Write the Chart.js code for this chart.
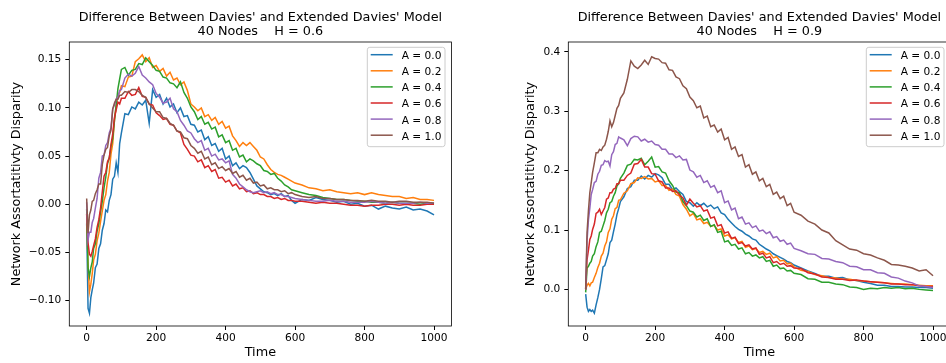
<!DOCTYPE html>
<html>
<head>
<meta charset="utf-8">
<script src="https://cdn.jsdelivr.net/npm/chart.js@4.4.1/dist/chart.umd.min.js"></script>
<style>
  html, body { margin: 0; padding: 0; background: #fff; overflow: hidden; width: 946px; height: 363px; }
  canvas { position: absolute; top: 0; }
  #leftChart { left: 0; }
  #rightChart { left: 473px; }
</style>
</head>
<body>
<canvas id="leftChart" width="473" height="363"></canvas>
<canvas id="rightChart" width="500" height="363"></canvas>
<script>
// Sample times (shared by every series)
const timeSteps = [0, 4, 8, 12, 16, 20, 25, 30, 35, 40, 45, 50, 55, 60, 65, 70, 75, 80, 85, 90, 95, 100,
  110, 120, 130, 140, 150, 160, 170, 180, 190, 200, 210, 220, 230, 240, 250, 260, 270, 280, 290, 300,
  310, 320, 330, 340, 350, 360, 370, 380, 390, 400, 410, 420, 430, 440, 450, 460, 470, 480, 490, 500,
  510, 520, 530, 540, 550, 560, 570, 580, 590, 600,
  620, 640, 660, 680, 700, 720, 740, 760, 780, 800, 820, 840, 860, 880, 900, 920, 940, 960, 980, 1000];

const seriesLabels = ["A = 0.0", "A = 0.2", "A = 0.4", "A = 0.6", "A = 0.8", "A = 1.0"];
const seriesColors = ["#1f77b4", "#ff7f0e", "#2ca02c", "#d62728", "#9467bd", "#8c564b"];

const xTicks = [0, 200, 400, 600, 800, 1000];
const leftYTicks = [-0.10, -0.05, 0.00, 0.05, 0.10, 0.15];
const rightYTicks = [0.0, 0.1, 0.2, 0.3, 0.4];

// H = 0.6
const leftA00 = [-0.020, -0.108, -0.113, -0.097, -0.089, -0.082, -0.066, -0.062, -0.046, -0.041, -0.027, -0.020, -0.006, -0.008, 0.004, 0.010, 0.026, 0.029, 0.043, 0.033, 0.063, 0.074,
  0.094, 0.093, 0.101, 0.099, 0.106, 0.103, 0.108, 0.084, 0.119, 0.111, 0.114, 0.104, 0.110, 0.101, 0.104, 0.095, 0.100, 0.091, 0.092, 0.083,
  0.082, 0.075, 0.077, 0.067, 0.070, 0.061, 0.063, 0.055, 0.058, 0.047, 0.050, 0.040, 0.043, 0.037, 0.040, 0.038, 0.033, 0.026, 0.019, 0.016,
  0.013, 0.012, 0.010, 0.011, 0.009, 0.011, 0.008, 0.009, 0.004, 0.001,
  0.005, 0.004, 0.007, 0.005, 0.004, 0.002, 0.003, 0.000, 0.001, -0.002, -0.001, -0.005, -0.002, -0.004, -0.005, -0.003, -0.006, -0.005, -0.007, -0.011];
const leftA02 = [-0.010, -0.062, -0.091, -0.083, -0.072, -0.058, -0.052, -0.038, -0.030, -0.018, -0.007, 0.004, 0.010, 0.024, 0.033, 0.052, 0.063, 0.087, 0.103, 0.114, 0.116, 0.123,
  0.122, 0.132, 0.133, 0.148, 0.151, 0.155, 0.148, 0.152, 0.142, 0.144, 0.138, 0.141, 0.133, 0.137, 0.129, 0.131, 0.124, 0.127, 0.118, 0.104,
  0.101, 0.097, 0.100, 0.091, 0.093, 0.087, 0.090, 0.083, 0.086, 0.079, 0.081, 0.071, 0.066, 0.060, 0.064, 0.061, 0.064, 0.060, 0.056, 0.049,
  0.047, 0.041, 0.036, 0.033, 0.031, 0.030, 0.028, 0.026, 0.024, 0.022,
  0.020, 0.017, 0.016, 0.014, 0.015, 0.013, 0.012, 0.011, 0.012, 0.010, 0.012, 0.010, 0.009, 0.008, 0.008, 0.006, 0.007, 0.005, 0.005, 0.004];
const leftA04 = [-0.005, -0.066, -0.075, -0.066, -0.060, -0.046, -0.041, -0.028, -0.020, -0.008, 0.003, 0.017, 0.028, 0.042, 0.048, 0.060, 0.068, 0.087, 0.103, 0.120, 0.130, 0.140,
  0.142, 0.134, 0.139, 0.140, 0.146, 0.145, 0.152, 0.148, 0.144, 0.139, 0.138, 0.132, 0.131, 0.126, 0.125, 0.121, 0.127, 0.116, 0.110, 0.101,
  0.096, 0.088, 0.091, 0.083, 0.085, 0.078, 0.080, 0.070, 0.072, 0.064, 0.066, 0.056, 0.058, 0.049, 0.051, 0.044, 0.047, 0.045, 0.042, 0.040,
  0.035, 0.034, 0.031, 0.032, 0.027, 0.024, 0.020, 0.018, 0.015, 0.014,
  0.012, 0.010, 0.009, 0.007, 0.006, 0.005, 0.005, 0.004, 0.003, 0.003, 0.002, 0.002, 0.001, 0.002, 0.001, 0.001, 0.001, 0.000, 0.001, 0.001];
const leftA06 = [-0.010, -0.040, -0.052, -0.054, -0.049, -0.043, -0.036, -0.024, -0.016, -0.004, 0.013, 0.029, 0.033, 0.044, 0.048, 0.062, 0.073, 0.090, 0.098, 0.106, 0.104, 0.110,
  0.110, 0.117, 0.113, 0.114, 0.121, 0.112, 0.111, 0.104, 0.103, 0.095, 0.092, 0.088, 0.089, 0.083, 0.082, 0.076, 0.074, 0.062, 0.057, 0.051,
  0.050, 0.044, 0.046, 0.038, 0.040, 0.034, 0.036, 0.027, 0.028, 0.023, 0.025, 0.019, 0.021, 0.016, 0.017, 0.013, 0.014, 0.011, 0.012, 0.010,
  0.010, 0.008, 0.008, 0.006, 0.007, 0.005, 0.006, 0.004, 0.004, 0.003,
  0.003, 0.002, 0.001, 0.002, 0.001, 0.001, 0.000, -0.001, -0.001, -0.002, -0.001, -0.001, 0.000, 0.000, -0.001, 0.000, -0.001, -0.001, 0.000, 0.000];
const leftA08 = [0.002, -0.037, -0.029, -0.029, -0.019, -0.015, -0.004, 0.006, 0.027, 0.033, 0.050, 0.051, 0.061, 0.064, 0.074, 0.079, 0.099, 0.103, 0.109, 0.111, 0.118, 0.119,
  0.131, 0.135, 0.133, 0.136, 0.143, 0.134, 0.131, 0.127, 0.124, 0.115, 0.111, 0.105, 0.106, 0.110, 0.099, 0.096, 0.087, 0.082, 0.076, 0.074,
  0.068, 0.064, 0.066, 0.056, 0.058, 0.050, 0.052, 0.046, 0.047, 0.043, 0.045, 0.031, 0.027, 0.021, 0.018, 0.015, 0.013, 0.012, 0.013, 0.014,
  0.012, 0.013, 0.011, 0.012, 0.010, 0.010, 0.008, 0.008, 0.007, 0.006,
  0.005, 0.004, 0.003, 0.003, 0.004, 0.003, 0.003, 0.002, 0.002, 0.002, 0.003, 0.002, 0.001, 0.002, 0.001, 0.001, 0.001, 0.002, 0.001, 0.001];
const leftA10 = [0.006, -0.030, -0.011, -0.006, 0.003, 0.004, 0.011, 0.015, 0.021, 0.021, 0.041, 0.051, 0.057, 0.059, 0.071, 0.077, 0.099, 0.105, 0.109, 0.109, 0.113, 0.113,
  0.117, 0.116, 0.119, 0.119, 0.117, 0.113, 0.111, 0.104, 0.100, 0.096, 0.096, 0.090, 0.089, 0.084, 0.082, 0.076, 0.075, 0.069, 0.068, 0.061,
  0.058, 0.053, 0.055, 0.047, 0.049, 0.041, 0.043, 0.037, 0.039, 0.035, 0.037, 0.032, 0.034, 0.028, 0.030, 0.025, 0.027, 0.022, 0.023, 0.019,
  0.020, 0.016, 0.017, 0.015, 0.015, 0.013, 0.014, 0.011, 0.012, 0.010,
  0.008, 0.007, 0.008, 0.006, 0.006, 0.005, 0.005, 0.004, 0.004, 0.003, 0.004, 0.003, 0.003, 0.002, 0.003, 0.003, 0.002, 0.002, 0.002, 0.001];

// H = 0.9
const rightA00 = [-0.008, -0.030, -0.037, -0.034, -0.037, -0.035, -0.040, -0.026, -0.014, 0.000, 0.018, 0.038, 0.040, 0.050, 0.060, 0.079, 0.083, 0.097, 0.110, 0.126, 0.136, 0.148,
  0.156, 0.170, 0.173, 0.184, 0.184, 0.191, 0.186, 0.192, 0.189, 0.195, 0.193, 0.188, 0.177, 0.177, 0.168, 0.171, 0.165, 0.160, 0.148, 0.146,
  0.140, 0.146, 0.141, 0.145, 0.139, 0.142, 0.136, 0.139, 0.129, 0.126, 0.118, 0.112, 0.106, 0.101, 0.098, 0.093, 0.090, 0.085, 0.083, 0.076,
  0.072, 0.068, 0.065, 0.060, 0.057, 0.054, 0.051, 0.047, 0.045, 0.041,
  0.036, 0.031, 0.027, 0.022, 0.022, 0.019, 0.020, 0.016, 0.015, 0.012, 0.010, 0.007, 0.007, 0.005, 0.005, 0.004, 0.004, 0.003, 0.003, 0.002];
const rightA02 = [0.000, 0.007, 0.010, 0.006, 0.011, 0.012, 0.020, 0.027, 0.037, 0.044, 0.056, 0.061, 0.073, 0.080, 0.096, 0.102, 0.118, 0.124, 0.136, 0.138, 0.150, 0.151,
  0.162, 0.166, 0.178, 0.180, 0.188, 0.187, 0.190, 0.186, 0.187, 0.181, 0.183, 0.175, 0.175, 0.167, 0.169, 0.160, 0.157, 0.143, 0.135, 0.124,
  0.128, 0.117, 0.119, 0.111, 0.113, 0.106, 0.108, 0.100, 0.102, 0.090, 0.092, 0.085, 0.087, 0.079, 0.081, 0.071, 0.073, 0.067, 0.069, 0.062,
  0.064, 0.059, 0.061, 0.053, 0.055, 0.048, 0.049, 0.043, 0.044, 0.038,
  0.032, 0.030, 0.025, 0.023, 0.020, 0.019, 0.017, 0.017, 0.015, 0.014, 0.013, 0.012, 0.011, 0.010, 0.009, 0.009, 0.008, 0.007, 0.006, 0.006];
const rightA04 = [-0.005, 0.036, 0.039, 0.044, 0.047, 0.056, 0.060, 0.072, 0.080, 0.096, 0.098, 0.107, 0.116, 0.129, 0.135, 0.146, 0.148, 0.157, 0.163, 0.174, 0.178, 0.187,
  0.196, 0.209, 0.211, 0.219, 0.218, 0.221, 0.210, 0.216, 0.223, 0.206, 0.207, 0.198, 0.196, 0.183, 0.175, 0.164, 0.163, 0.148, 0.141, 0.132,
  0.130, 0.122, 0.125, 0.116, 0.119, 0.106, 0.109, 0.096, 0.098, 0.080, 0.082, 0.074, 0.076, 0.068, 0.070, 0.060, 0.062, 0.056, 0.058, 0.053,
  0.055, 0.047, 0.049, 0.039, 0.041, 0.035, 0.036, 0.031, 0.032, 0.027,
  0.025, 0.018, 0.017, 0.012, 0.012, 0.009, 0.008, 0.004, 0.003, 0.000, 0.002, 0.001, 0.003, 0.002, 0.003, 0.001, 0.002, 0.000, -0.001, -0.002];
const rightA06 = [0.000, 0.050, 0.066, 0.084, 0.090, 0.101, 0.110, 0.128, 0.130, 0.135, 0.126, 0.132, 0.138, 0.152, 0.154, 0.163, 0.163, 0.169, 0.170, 0.178, 0.178, 0.184,
  0.184, 0.192, 0.196, 0.211, 0.212, 0.219, 0.206, 0.206, 0.195, 0.194, 0.183, 0.181, 0.171, 0.171, 0.165, 0.166, 0.159, 0.154, 0.142, 0.152,
  0.145, 0.139, 0.141, 0.132, 0.134, 0.120, 0.122, 0.107, 0.109, 0.095, 0.097, 0.086, 0.088, 0.077, 0.079, 0.073, 0.075, 0.068, 0.070, 0.059,
  0.061, 0.053, 0.055, 0.045, 0.047, 0.042, 0.044, 0.039, 0.040, 0.036,
  0.035, 0.028, 0.026, 0.021, 0.020, 0.017, 0.017, 0.015, 0.016, 0.014, 0.013, 0.012, 0.011, 0.009, 0.009, 0.008, 0.008, 0.006, 0.005, 0.005];
const rightA08 = [0.000, 0.082, 0.117, 0.137, 0.160, 0.168, 0.180, 0.182, 0.194, 0.199, 0.209, 0.210, 0.217, 0.215, 0.216, 0.208, 0.227, 0.232, 0.244, 0.246, 0.257, 0.255,
  0.252, 0.242, 0.254, 0.258, 0.257, 0.250, 0.253, 0.248, 0.250, 0.244, 0.243, 0.236, 0.236, 0.228, 0.228, 0.222, 0.225, 0.218, 0.219, 0.201,
  0.198, 0.189, 0.192, 0.180, 0.183, 0.172, 0.175, 0.163, 0.166, 0.146, 0.149, 0.134, 0.137, 0.119, 0.122, 0.110, 0.112, 0.104, 0.107, 0.098,
  0.100, 0.094, 0.097, 0.087, 0.089, 0.081, 0.083, 0.076, 0.078, 0.069,
  0.065, 0.060, 0.059, 0.052, 0.051, 0.047, 0.045, 0.039, 0.038, 0.033, 0.033, 0.028, 0.027, 0.021, 0.019, 0.014, 0.011, 0.006, 0.005, 0.003];
const rightA10 = [0.000, 0.096, 0.133, 0.163, 0.180, 0.197, 0.213, 0.230, 0.230, 0.236, 0.234, 0.240, 0.243, 0.253, 0.266, 0.284, 0.274, 0.281, 0.293, 0.305, 0.310, 0.322,
  0.331, 0.354, 0.385, 0.376, 0.372, 0.378, 0.386, 0.379, 0.392, 0.389, 0.388, 0.382, 0.381, 0.370, 0.369, 0.358, 0.355, 0.343, 0.338, 0.324,
  0.318, 0.306, 0.309, 0.289, 0.292, 0.274, 0.277, 0.265, 0.270, 0.252, 0.256, 0.236, 0.240, 0.224, 0.227, 0.206, 0.210, 0.194, 0.198, 0.183,
  0.187, 0.173, 0.177, 0.160, 0.164, 0.153, 0.157, 0.141, 0.145, 0.130,
  0.125, 0.115, 0.110, 0.100, 0.095, 0.082, 0.075, 0.068, 0.066, 0.060, 0.058, 0.053, 0.049, 0.042, 0.041, 0.039, 0.036, 0.031, 0.033, 0.023];

const FONT = "'DejaVu Sans', sans-serif";
const TITLE_SIZE = 12.8;
const TICK_SIZE = 10.6;

function fmtTick(v, digits) {
  return v.toFixed(digits).replace("-", "\u2212");
}

// matplotlib-like frame: spines, two-line title, legend box
const mplFrame = {
  id: "mplFrame",
  afterDraw(chart, args, opts) {
    const ctx = chart.ctx;
    const a = chart.chartArea;
    ctx.save();
    ctx.strokeStyle = "#000";
    ctx.lineWidth = 0.8;
    ctx.strokeRect(a.left, a.top, a.right - a.left, a.bottom - a.top);

    ctx.fillStyle = "#000";
    ctx.font = TITLE_SIZE + "px " + FONT;
    ctx.textAlign = "center";
    ctx.textBaseline = "alphabetic";
    const cx = (a.left + a.right) / 2;
    ctx.fillText(opts.title[0], cx, 21.3);
    ctx.fillText(opts.title[1], cx, 34.7);

    // legend
    const bx = a.right - 84.1, by = a.top + 5.3, bw = 77.7, bh = 99.4;
    ctx.beginPath();
    ctx.roundRect(bx, by, bw, bh, 2.5);
    ctx.fillStyle = "rgba(255,255,255,0.8)";
    ctx.fill();
    ctx.strokeStyle = "#cccccc";
    ctx.lineWidth = 1;
    ctx.stroke();
    ctx.font = TICK_SIZE + "px " + FONT;
    ctx.textAlign = "left";
    seriesLabels.forEach(function (label, i) {
      const y = by + 7.4 + i * 16.1;
      ctx.beginPath();
      ctx.moveTo(bx + 3.4, y);
      ctx.lineTo(bx + 25.4, y);
      ctx.strokeStyle = seriesColors[i];
      ctx.lineWidth = 1.5;
      ctx.stroke();
      ctx.fillStyle = "#000";
      ctx.fillText(label, bx + 34.4, y + 4.4);
    });
    ctx.restore();
  },
};

function makeChart(canvasId, seriesList, yMin, yMax, yTicks, digits, axisWidth, padRight, yTitlePad, titleLines) {
  const ctx = document.getElementById(canvasId).getContext("2d");
  return new Chart(ctx, {
    type: "line",
    data: {
      datasets: seriesList.map(function (vals, i) {
        return {
          label: seriesLabels[i],
          data: timeSteps.map(function (t, j) { return { x: t, y: vals[j] }; }),
          borderColor: seriesColors[i],
          borderWidth: 1.5,
          pointRadius: 0,
          tension: 0,
          fill: false,
          order: 5 - i,
        };
      }),
    },
    options: {
      responsive: false,
      animation: false,
      events: [],
      layout: { padding: { top: 42, right: padRight, left: 0, bottom: 0 } },
      plugins: {
        legend: { display: false },
        tooltip: { enabled: false },
        title: { display: false },
        mplFrame: { title: titleLines },
      },
      scales: {
        x: {
          type: "linear",
          min: -50,
          max: 1050,
          afterBuildTicks: function (s) { s.ticks = xTicks.map(function (v) { return { value: v }; }); },
          afterFit: function (s) { s.height = 37; },
          grid: { drawOnChartArea: false, drawTicks: true, tickLength: 4, tickWidth: 1, tickColor: "#000" },
          border: { display: false },
          ticks: {
            color: "#000",
            font: { family: FONT, size: TICK_SIZE },
            padding: 2,
            maxRotation: 0,
            autoSkip: false,
            callback: function (v) { return String(v); },
          },
          title: { display: true, text: "Time", color: "#000", font: { family: FONT, size: TITLE_SIZE }, padding: { top: 0, bottom: 2.6 } },
        },
        y: {
          type: "linear",
          min: yMin,
          max: yMax,
          afterBuildTicks: function (s) { s.ticks = yTicks.map(function (v) { return { value: v }; }); },
          afterFit: function (s) { s.width = axisWidth; },
          grid: { drawOnChartArea: false, drawTicks: true, tickLength: 4, tickWidth: 1, tickColor: "#000" },
          border: { display: false },
          ticks: {
            color: "#000",
            font: { family: FONT, size: TICK_SIZE },
            padding: 4,
            autoSkip: false,
            callback: function (v) { return fmtTick(v, digits); },
          },
          title: {
            display: true,
            text: "Network Assortatitivty Disparity",
            color: "#000",
            font: { family: FONT, size: TITLE_SIZE },
            padding: { top: yTitlePad, bottom: 0 },
          },
        },
      },
    },
    plugins: [mplFrame],
  });
}

makeChart("leftChart", [leftA00, leftA02, leftA04, leftA06, leftA08, leftA10],
  -0.1264, 0.1684, leftYTicks, 2, 69.3, 21.6, 9, 
  ["Difference Between Davies' and Extended Davies' Model", "40 Nodes    H = 0.6"]);

makeChart("rightChart", [rightA00, rightA02, rightA04, rightA06, rightA08, rightA10],
  -0.0617, 0.4168, rightYTicks, 1, 95.3, 22.6, 50.3,
  ["Difference Between Davies' and Extended Davies' Model", "40 Nodes    H = 0.9"]);
</script>
</body>
</html>
